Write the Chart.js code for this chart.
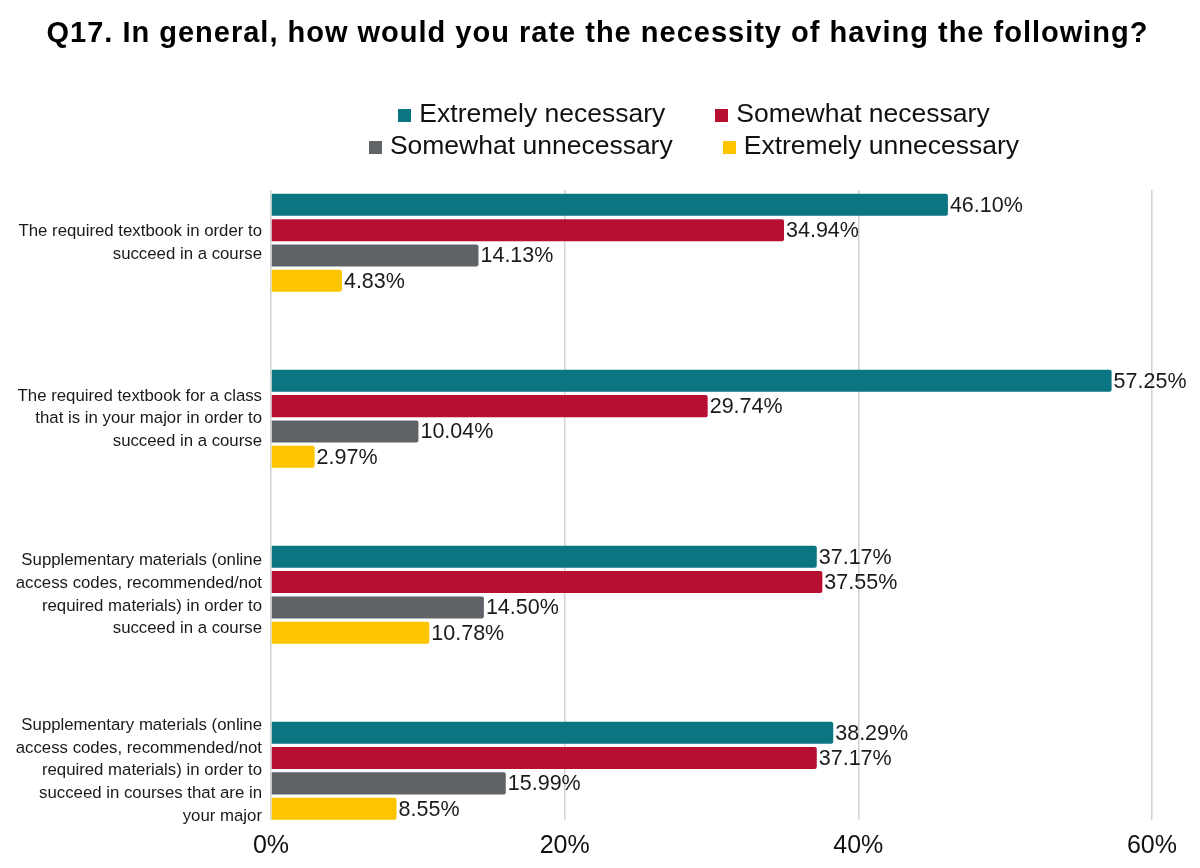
<!DOCTYPE html>
<html>
<head>
<meta charset="utf-8">
<title>Q17 necessity of textbooks</title>
<script src="https://cdn.jsdelivr.net/npm/chart.js"></script>
<style>
    body { margin: 0; background: #fff; }
    .wrap { position: relative; width: 1200px; height: 868px; }
    #title {
        position: absolute;
        top: 16px;
        left: 0;
        width: 1195px;
        text-align: center;
        font-family: 'Liberation Sans', Arial, sans-serif;
        font-weight: bold;
        font-size: 29px;
        line-height: 32px;
        letter-spacing: 1px;
        color: #000;
        white-space: nowrap;
    }
    #legend {
        position: absolute;
        top: 97px;
        left: 0;
        width: 1200px;
        padding-left: 188px;
        box-sizing: border-box;
        font-family: 'Liberation Sans', Arial, sans-serif;
        font-size: 26.5px;
        color: #111;
    }
    .legend_row { display: flex; justify-content: center; height: 32px; align-items: center; }
    .legend_item { display: flex; align-items: center; margin: 0 25px; white-space: nowrap; }
    .legend_box { width: 13px; height: 13px; margin-right: 8px; margin-top: 4px; }
</style>
</head>
<body>
<div class="wrap">
    <canvas id="necessity" width="1200" height="868"></canvas>
    <div id="title">Q17. In general, how would you rate the necessity of having the following?</div>
    <div id="legend"></div>
</div>
<script>
const categories = [
    ['The required textbook in order to', 'succeed in a course'],
    ['The required textbook for a class', 'that is in your major in order to', 'succeed in a course'],
    ['Supplementary materials (online', 'access codes, recommended/not', 'required materials) in order to', 'succeed in a course'],
    ['Supplementary materials (online', 'access codes, recommended/not', 'required materials) in order to', 'succeed in courses that are in', 'your major']
];
const seriesNames = ['Extremely necessary', 'Somewhat necessary', 'Somewhat unnecessary', 'Extremely unnecessary'];
const seriesColors = ['#0b7682', '#b70f2f', '#606368', '#fcc500'];
const extremelyNecessary = [46.10, 57.25, 37.17, 38.29];
const somewhatNecessary = [34.94, 29.74, 37.55, 37.17];
const somewhatUnnecessary = [14.13, 10.04, 14.50, 15.99];
const extremelyUnnecessary = [4.83, 2.97, 10.78, 8.55];
const xTicks = [0, 20, 40, 60];

const seriesValues = [extremelyNecessary, somewhatNecessary, somewhatUnnecessary, extremelyUnnecessary];
const fontFamily = "'Liberation Sans', Arial, sans-serif";

const canvas = document.getElementById('necessity');
const ctx = canvas ? canvas.getContext('2d') : undefined;

// value labels at the end of every bar
const barLabels = {
    id: 'barLabels',
    afterDatasetsDraw(chart) {
        const c = chart.ctx;
        c.save();
        c.font = '21.5px ' + fontFamily;
        c.fillStyle = '#1a1a1a';
        c.textBaseline = 'middle';
        c.textAlign = 'left';
        chart.data.datasets.forEach((ds, i) => {
            chart.getDatasetMeta(i).data.forEach((bar, j) => {
                c.fillText(ds.data[j].x.toFixed(2) + '%', bar.x + 2, bar.y + 1);
            });
        });
        c.restore();
    }
};

function buildLegend() {
    const legend = document.getElementById('legend');
    for (let r = 0; r < seriesNames.length; r += 2) {
        const row = document.createElement('div');
        row.className = 'legend_row';
        seriesNames.slice(r, r + 2).forEach((name, k) => {
            const item = document.createElement('div');
            item.className = 'legend_item';
            const box = document.createElement('span');
            box.className = 'legend_box';
            box.style.background = seriesColors[r + k];
            const text = document.createElement('span');
            text.textContent = name;
            item.appendChild(box);
            item.appendChild(text);
            row.appendChild(item);
        });
        legend.appendChild(row);
    }
}

document.addEventListener('DOMContentLoaded', () => {
    buildLegend();

    if (ctx) {
        new Chart(ctx, {
            type: 'bar',
            data: {
                datasets: seriesNames.map((name, i) => ({
                    label: name,
                    data: seriesValues[i].map((v, k) => ({ x: v, y: k })),
                    backgroundColor: seriesColors[i],
                    borderRadius: 2,
                    categoryPercentage: 0.575,
                    barPercentage: 0.87
                }))
            },
            plugins: [barLabels],
            options: {
                indexAxis: 'y',
                responsive: false,
                animation: false,
                layout: {
                    padding: { left: 0, right: 0, top: 190, bottom: 0 }
                },
                plugins: {
                    legend: { display: false },
                    tooltip: { enabled: false },
                    title: { display: false }
                },
                scales: {
                    x: {
                        type: 'linear',
                        min: 0,
                        max: 63.27,
                        afterBuildTicks(scale) {
                            scale.ticks = xTicks.map(v => ({ value: v }));
                        },
                        afterFit(scale) {
                            scale.height = 48;
                        },
                        border: { display: false },
                        grid: { color: '#d2d2d2', lineWidth: 1.5, drawTicks: false },
                        ticks: {
                            padding: 11,
                            color: '#111',
                            font: { family: fontFamily, size: 25 },
                            callback: v => v + '%'
                        }
                    },
                    y: {
                        type: 'linear',
                        reverse: true,
                        offset: false,
                        min: -0.3,
                        max: 3.28,
                        afterBuildTicks(scale) {
                            scale.ticks = categories.map((c, i) => ({ value: i }));
                        },
                        afterFit(scale) {
                            scale.width = 271;
                        },
                        border: { display: false },
                        grid: { display: false, drawTicks: false },
                        ticks: {
                            padding: 9,
                            color: '#1a1a1a',
                            font: { family: fontFamily, size: 16.8, lineHeight: 1.35 },
                            callback: v => categories[v]
                        }
                    }
                }
            }
        });
    }
});
</script>
</body>
</html>
